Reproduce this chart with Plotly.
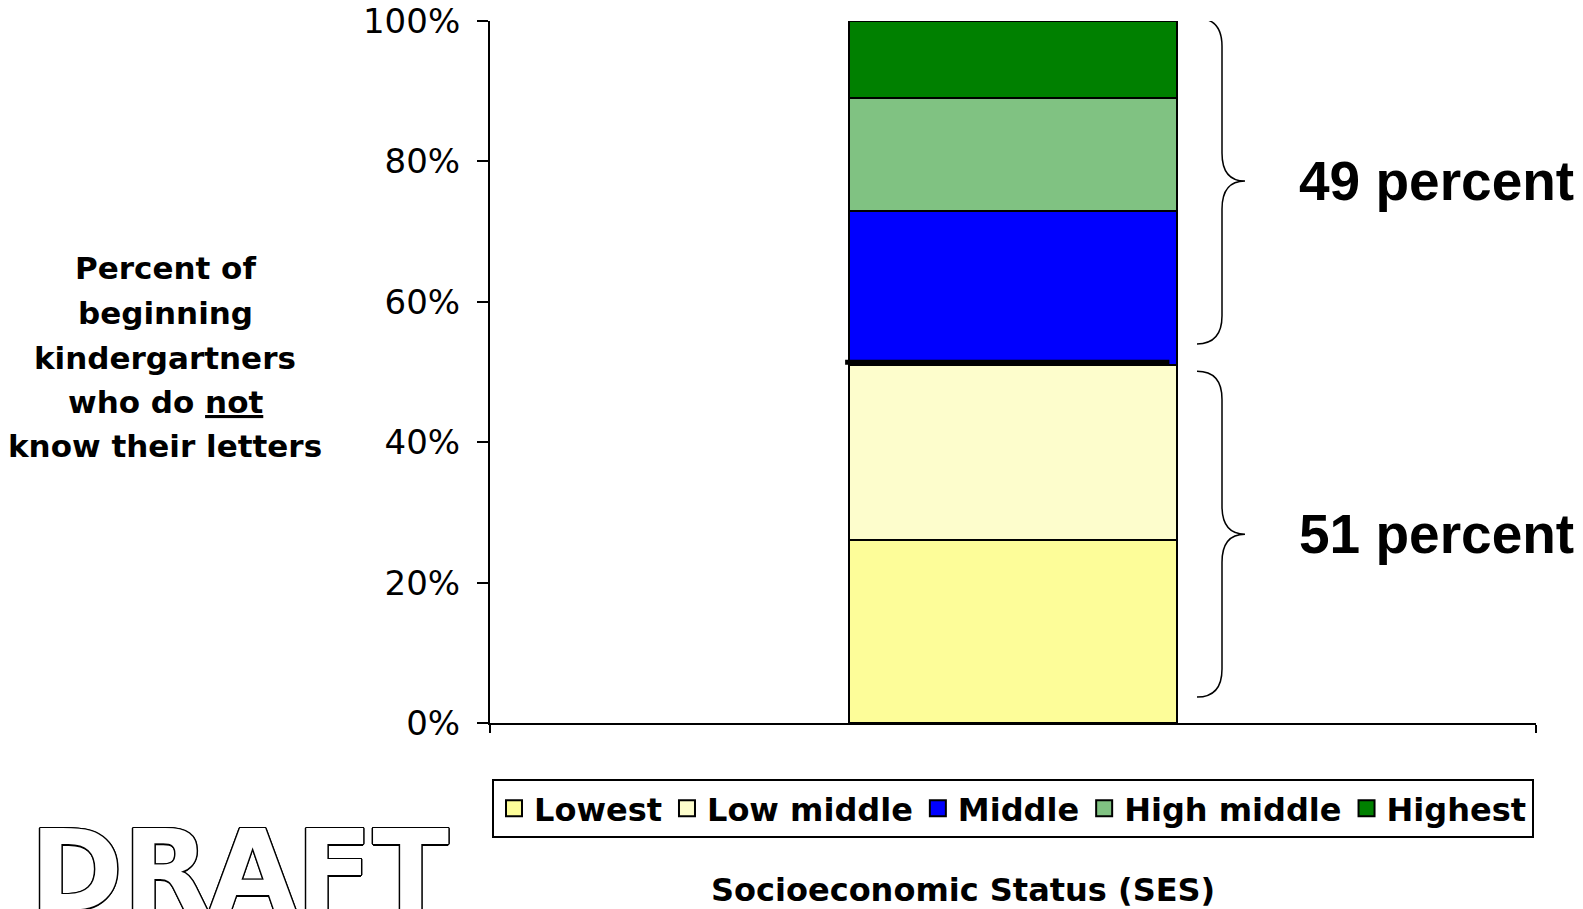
import plotly.graph_objects as go

# ---- data ----
categories = ["SES"]
series_names = ["Lowest", "Low middle", "Middle", "High middle", "Highest"]
series_values = [26, 25, 22, 16, 11]
series_colors = ["#FDFD99", "#FDFDCC", "#0000FF", "#80C282", "#008000"]
y_tick_values = [0, 20, 40, 60, 80, 100]
y_tick_labels = ["0%", "20%", "40%", "60%", "80%", "100%"]
left_title_lines = ["Percent of", "beginning", "kindergartners", "who do <u>not</u>", "know their letters"]
x_title = "Socioeconomic Status (SES)"

BAR_WIDTH = 0.313
lower_sum = sum(series_values[:2])
upper_sum = sum(series_values[2:])
total = sum(series_values)

fig = go.Figure()
for name, val, col in zip(series_names, series_values, series_colors):
    fig.add_trace(go.Bar(
        x=categories, y=[val], name=name, width=BAR_WIDTH, showlegend=False,
        legendgroup=name,
        marker=dict(color=col, line=dict(color="black", width=2)),
        hoverinfo="skip",
    ))
# legend entries (larger square swatches)
for name, col in zip(series_names, series_colors):
    fig.add_trace(go.Scatter(
        x=categories, y=[None], name=name, mode="markers", legendgroup=name,
        marker=dict(symbol="square", size=16, color=col, line=dict(color="black", width=2)),
        hoverinfo="skip",
    ))

# plot area in px (for paper conversions)
L, R, T, B = 490, 1536, 21, 723
W, H = R - L, B - T

def px_x(p):
    return (p - L) / W

def px_y(p):
    return (B - p) / H

annotations = []
# left title lines
line_ys = [267.5, 313, 357.5, 402, 446]
for txt, yy in zip(left_title_lines, line_ys):
    annotations.append(dict(
        text=txt, x=px_x(165), y=px_y(yy), xref="paper", yref="paper",
        xanchor="center", yanchor="middle", showarrow=False,
        font=dict(family="DejaVu Sans", size=31, color="black", weight="bold"),
    ))

# brace labels
upper_top, upper_bot = total + 0.4, lower_sum + 3
lower_top, lower_bot = lower_sum - 0.9, 3.7
for val, yc in [(upper_sum, (upper_top + upper_bot) / 2), (lower_sum, (lower_top + lower_bot) / 2)]:
    annotations.append(dict(
        text=f"{val} percent", x=px_x(1297), y=yc,
        xref="paper", yref="y", xanchor="left", yanchor="middle", showarrow=False,
        font=dict(family="Liberation Sans", size=55, color="black", weight="bold"),
    ))

# x title
annotations.append(dict(
    text=x_title, x=px_x(963), y=px_y(890), xref="paper", yref="paper",
    xanchor="center", yanchor="middle", showarrow=False,
    font=dict(family="DejaVu Sans", size=32, color="black", weight="bold"),
))

# DRAFT watermark (outlined)
outline = ", ".join(f"{dx}px {dy}px 0 #000" for dx, dy in
                    [(1.5, 0), (-1.5, 0), (0, 1.5), (0, -1.5), (1, 1), (-1, -1), (1, -1), (-1, 1)])
annotations.append(dict(
    text="DRAFT", x=px_x(239), y=px_y(871), xref="paper", yref="paper",
    xanchor="center", yanchor="middle", showarrow=False,
    font=dict(family="DejaVu Sans", size=112, color="white", weight="bold", shadow=outline),
))

# braces
def brace(x_end, x_spine, x_tip, y_top, y_bot, r):
    ym = (y_top + y_bot) / 2
    return (f"M {x_end},{y_top} Q {x_spine},{y_top} {x_spine},{y_top - r} "
            f"L {x_spine},{ym + r} Q {x_spine},{ym} {x_tip},{ym} "
            f"Q {x_spine},{ym} {x_spine},{ym - r} "
            f"L {x_spine},{y_bot + r} Q {x_spine},{y_bot} {x_end},{y_bot}")

xe, xs, xt = px_x(1197), px_x(1222), px_x(1245)
shapes = [
    dict(type="path", xref="paper", yref="y", path=brace(xe, xs, xt, upper_top, upper_bot, 4.0),
         line=dict(color="black", width=1.5)),
    dict(type="path", xref="paper", yref="y", path=brace(xe, xs, xt, lower_top, lower_bot, 4.0),
         line=dict(color="black", width=1.5)),
    # thick separator line between lower and upper halves
    dict(type="line", xref="x", yref="y", x0=-BAR_WIDTH / 2 - 0.004, x1=BAR_WIDTH / 2 - 0.007,
         y0=lower_sum + 0.4, y1=lower_sum + 0.4, line=dict(color="black", width=5)),
]

fig.update_layout(
    barmode="stack",
    width=1583, height=909,
    margin=dict(l=L, r=1583 - R, t=T, b=909 - B, pad=0, autoexpand=False),
    paper_bgcolor="white", plot_bgcolor="white",
    showlegend=True,
    legend=dict(
        orientation="h", x=0.5, xanchor="center", y=px_y(779), yanchor="top",
        traceorder="normal", bordercolor="black", borderwidth=2, bgcolor="white",
        font=dict(family="DejaVu Sans", size=32, color="black", weight="bold"),
        itemclick=False, itemdoubleclick=False,
    ),
    xaxis=dict(
        type="category", range=[-0.5, 0.5], showline=True, linecolor="black", linewidth=2,
        ticks="outside", tickson="boundaries", ticklen=8, tickwidth=2, tickcolor="black",
        showticklabels=False, showgrid=False, zeroline=False, fixedrange=True,
    ),
    yaxis=dict(
        range=[0, 100], tickvals=y_tick_values, ticktext=y_tick_labels,
        showline=True, linecolor="black", linewidth=2, ticks="outside", ticklen=11,
        tickwidth=2, tickcolor="black", showgrid=False, zeroline=False,
        tickfont=dict(family="DejaVu Sans", size=34, color="black"),
        ticklabelstandoff=10, fixedrange=True,
    ),
    annotations=annotations,
    shapes=shapes,
)

fig.write_html(
    "out.html",
    config={"displayModeBar": False},
    post_script="document.body.style.margin='0';document.body.style.overflow='hidden';",
)
